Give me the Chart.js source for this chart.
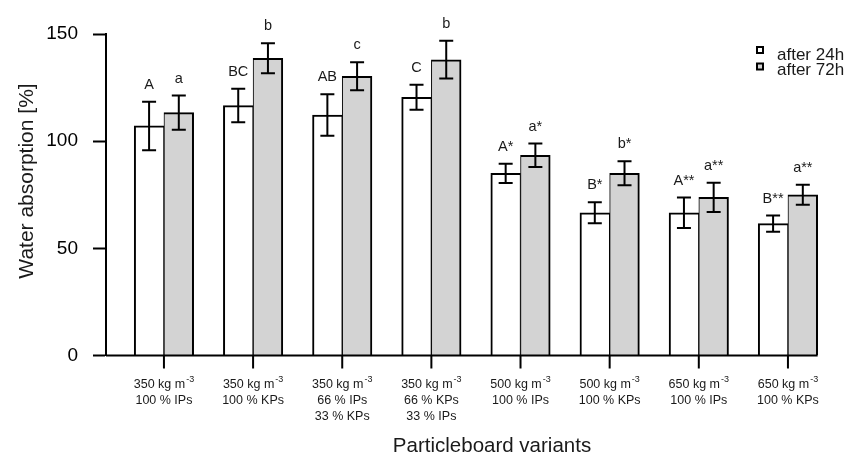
<!DOCTYPE html>
<html>
<head>
<meta charset="utf-8">
<title>Water absorption</title>
<script src="https://cdn.jsdelivr.net/npm/chart.js@4"></script>
<style>
  html, body { margin: 0; padding: 0; background: #fff; }
  #wrap { width: 854px; height: 454px; position: relative; }
</style>
</head>
<body>
<div id="wrap"><canvas id="chart"></canvas></div>
<script>
// Particleboard variants: density line + particle mix lines
const densities = ['350', '350', '350', '350', '500', '500', '650', '650'];
const mixes = [
  ['100 % IPs'], ['100 % KPs'], ['66 % IPs', '33 % KPs'], ['66 % KPs', '33 % IPs'],
  ['100 % IPs'], ['100 % KPs'], ['100 % IPs'], ['100 % KPs']
];
const seriesNames = ['after 24h', 'after 72h'];
const absorb24 = [107.1, 116.6, 112.2, 120.5, 85.0, 66.6, 66.6, 61.5];
const absorb72 = [113.3, 138.7, 130.3, 138.0, 93.4, 85.0, 73.8, 75.0];
const sd24 = [11.3, 7.8, 9.7, 5.8, 4.5, 4.9, 7.1, 3.8];
const sd72 = [8.0, 7.0, 6.5, 8.8, 5.5, 5.6, 6.8, 4.7];
const groups24 = ['A', 'BC', 'AB', 'C', 'A*', 'B*', 'A**', 'B**'];
const groups72 = ['a', 'b', 'c', 'b', 'a*', 'b*', 'a**', 'a**'];
const yTicks = [0, 50, 100, 150];

const FONT = "'Liberation Sans', Arial, Helvetica, sans-serif";
const fills = ['#ffffff', '#d3d3d3'];
const values = [absorb24, absorb72];
const errors = [sd24, sd72];
const letters = [groups24, groups72];

// barplot-style layout: one empty slot, then two adjacent bars per variant
const groupCenter = i => 2 + 3 * i;
const points = (arr, shift) => arr.map((v, i) => ({ x: groupCenter(i) + shift, y: v }));

const decorations = {
  id: 'decorations',
  afterDatasetsDraw(chart) {
    const ctx = chart.ctx;
    const xs = chart.scales.x, ys = chart.scales.y;
    const area = chart.chartArea;
    const y0 = ys.getPixelForValue(0);
    const grayBars = chart.getDatasetMeta(1).data;
    const last = grayBars[grayBars.length - 1];

    ctx.save();
    ctx.strokeStyle = '#000';
    ctx.fillStyle = '#1a1a1a';
    ctx.lineWidth = 2;

    // x axis line up to the right edge of the last bar
    ctx.beginPath();
    ctx.moveTo(area.left, y0);
    ctx.lineTo(last.x + last.width / 2, y0);
    ctx.stroke();

    // group ticks + labels
    xs.ticks.forEach((t, i) => {
      const px = xs.getPixelForValue(t.value);
      ctx.beginPath();
      ctx.moveTo(px, y0);
      ctx.lineTo(px, y0 + 13);
      ctx.stroke();

      const main = densities[i] + ' kg m';
      ctx.font = '12.5px ' + FONT;
      const w1 = ctx.measureText(main).width;
      ctx.font = '9px ' + FONT;
      const w2 = ctx.measureText('-3').width;
      const start = px - (w1 + 1 + w2) / 2;
      ctx.textAlign = 'left';
      ctx.textBaseline = 'alphabetic';
      ctx.font = '12.5px ' + FONT;
      ctx.fillText(main, start, y0 + 32.5);
      ctx.font = '9px ' + FONT;
      ctx.fillText('-3', start + w1 + 1, y0 + 26.5);

      ctx.font = '12.5px ' + FONT;
      ctx.textAlign = 'center';
      mixes[i].forEach((line, k) => {
        ctx.fillText(line, px, y0 + 48.5 + k * 15.5);
      });
    });

    // error bars and significance letters
    for (let d = 0; d < 2; d++) {
      const bars = chart.getDatasetMeta(d).data;
      bars.forEach((bar, i) => {
        const v = values[d][i], e = errors[d][i];
        const top = ys.getPixelForValue(v + e);
        const bot = ys.getPixelForValue(v - e);
        ctx.beginPath();
        ctx.moveTo(bar.x, top);
        ctx.lineTo(bar.x, bot);
        ctx.moveTo(bar.x - 7, top);
        ctx.lineTo(bar.x + 7, top);
        ctx.moveTo(bar.x - 7, bot);
        ctx.lineTo(bar.x + 7, bot);
        ctx.stroke();

        ctx.font = '14.5px ' + FONT;
        ctx.textAlign = 'center';
        ctx.textBaseline = 'alphabetic';
        ctx.fillText(letters[d][i], bar.x, top - 13);
      });
    }

    // legend
    ctx.font = '17px ' + FONT;
    ctx.textAlign = 'left';
    seriesNames.forEach((name, k) => {
      const sy = 47 + k * 16.5;
      ctx.fillStyle = fills[k];
      ctx.fillRect(757, sy, 6, 6);
      ctx.strokeRect(757, sy, 6, 6);
      ctx.fillStyle = '#1a1a1a';
      ctx.fillText(name, 777, 60 + k * 15);
    });

    // axis titles
    ctx.font = '20.5px ' + FONT;
    ctx.textAlign = 'center';
    ctx.fillText('Particleboard variants', 492, 452);
    ctx.translate(33, 181);
    ctx.rotate(-Math.PI / 2);
    ctx.font = '21px ' + FONT;
    ctx.fillText('Water absorption [%]', 0, 0);
    ctx.restore();
  }
};

new Chart(document.getElementById('chart'), {
  type: 'bar',
  data: {
    datasets: [
      {
        label: seriesNames[0],
        data: points(absorb24, -0.5),
        backgroundColor: fills[0],
        borderColor: '#000',
        borderWidth: { top: 2, left: 2, right: 1, bottom: 0 },
        borderSkipped: false,
        grouped: false,
        barPercentage: 1,
        categoryPercentage: 1
      },
      {
        label: seriesNames[1],
        data: points(absorb72, 0.5),
        backgroundColor: fills[1],
        borderColor: '#000',
        borderWidth: { top: 2, left: 1, right: 2, bottom: 0 },
        borderSkipped: false,
        grouped: false,
        barPercentage: 1,
        categoryPercentage: 1
      }
    ]
  },
  options: {
    responsive: true,
    maintainAspectRatio: false,
    animation: false,
    layout: { padding: { left: 0, right: 9, top: 34, bottom: 98.5 } },
    plugins: {
      legend: { display: false },
      tooltip: { enabled: false }
    },
    scales: {
      x: {
        type: 'linear',
        display: false,
        offset: false,
        min: 0.05,
        max: 24.92,
        afterBuildTicks: scale => {
          scale.ticks = densities.map((_, i) => ({ value: groupCenter(i) }));
        }
      },
      y: {
        min: 0,
        max: 150,
        afterBuildTicks: scale => {
          scale.ticks = yTicks.map(v => ({ value: v }));
        },
        afterFit: scale => { scale.width = 106; },
        border: { display: true, color: '#000', width: 2 },
        grid: {
          display: true,
          drawOnChartArea: false,
          drawTicks: true,
          tickLength: 13,
          tickWidth: 2,
          tickColor: '#000'
        },
        ticks: {
          padding: 15,
          color: '#000',
          font: { size: 19, family: FONT }
        }
      }
    }
  },
  plugins: [decorations]
});
</script>
</body>
</html>
